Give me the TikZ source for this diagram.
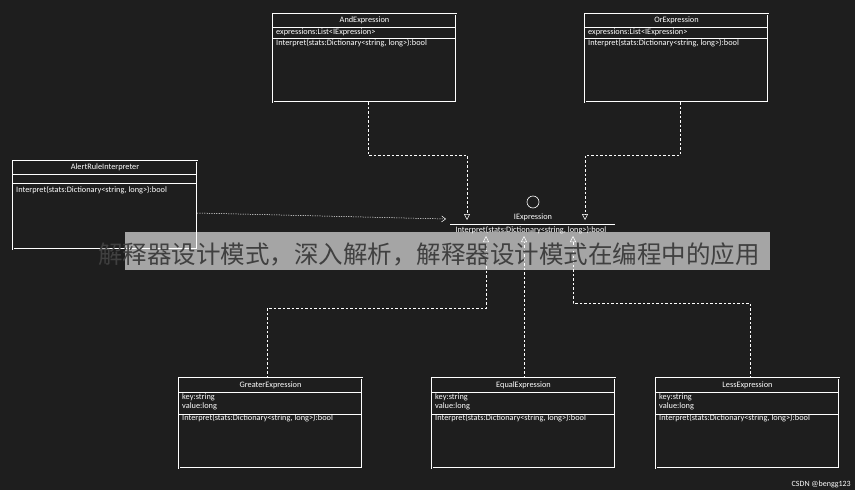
\documentclass[tikz,border=0pt]{standalone}
\usepackage{fontspec}
\setmainfont{Carlito}
\newfontfamily\cjk{Noto Sans CJK SC}
\usetikzlibrary{arrows.meta}
\definecolor{bg}{HTML}{1E1E1E}
\begin{document}
\begin{tikzpicture}[x=1pt,y=-1pt,
  cls/.style={draw=white,line width=0.7pt,double=bg,double distance=0.8pt,inner sep=0pt},
  sep/.style={draw=white,line width=0.6pt},
  ttl/.style={text=white,font=\fontsize{8.3}{8.5}\selectfont,inner sep=0pt},
  txt/.style={text=white,font=\fontsize{8.3}{9}\selectfont,inner sep=0pt,anchor=north west,align=left},
  conn/.style={draw=white!85,line width=0.5pt,dash pattern=on 2.5pt off 2pt},
  real/.style={conn,-{Triangle[open,length=6pt,width=6pt]}},
  dep/.style={draw=white!85,line width=0.5pt,dash pattern=on 1.2pt off 1.2pt,-{Straight Barb[length=4pt,width=6pt]}}]
\fill[bg] (0,0) rectangle (855,490);
\useasboundingbox (0,0) rectangle (855,490);
\newcommand{\umlclass}[7]{%
  \draw[cls] (#2,#3) rectangle (#4,#5);
  \draw[sep] (#2,#6) -- (#4,#6);
  \draw[sep] (#2,#7) -- (#4,#7);
}
\umlclass{and}{273}{14}{456}{102}{27}{38}
\node[ttl] (and) at (364.5,20.5) {AndExpression};
\node[txt] (anda) at (276,28.5) {expressions:List<IExpression>};
\node[txt] (andm) at (276,39.5) {Interpret(stats:Dictionary<string, long>):bool};
\umlclass{or}{585}{14}{768}{102}{27}{38}
\node[ttl] (or) at (676.5,20.5) {OrExpression};
\node[txt] (ora) at (588,28.5) {expressions:List<IExpression>};
\node[txt] (orm) at (588,39.5) {Interpret(stats:Dictionary<string, long>):bool};
\umlclass{al}{13}{161}{197}{249}{174}{183}
\node[ttl] (al) at (105,167.5) {AlertRuleInterpreter};
\node[txt] (alm) at (16,186) {Interpret(stats:Dictionary<string, long>):bool};
\umlclass{gr}{179}{378}{362}{468}{392}{414}
\node[ttl] (gr) at (270.5,385) {GreaterExpression};
\node[txt] (gra) at (182,393.5) {key:string\\value:long};
\node[txt] (grm) at (182,414.5) {Interpret(stats:Dictionary<string, long>):bool};
\umlclass{eq}{432}{378}{615}{468}{392}{414}
\node[ttl] (eq) at (523.5,385) {EqualExpression};
\node[txt] (eqa) at (435,393.5) {key:string\\value:long};
\node[txt] (eqm) at (435,414.5) {Interpret(stats:Dictionary<string, long>):bool};
\umlclass{le}{656}{378}{839}{468}{392}{414}
\node[ttl] (le) at (747.5,385) {LessExpression};
\node[txt] (lea) at (659,393.5) {key:string\\value:long};
\node[txt] (lem) at (659,414.5) {Interpret(stats:Dictionary<string, long>):bool};
\node[draw=white,line width=0.6pt,circle,minimum size=12pt,inner sep=0pt] (lol) at (533,202) {};
\node[ttl] (ie) at (533,217.5) {IExpression};
\draw[sep] (450,224) -- (615,224);
\node[ttl] (iem) at (531,230) {Interpret(stats:Dictionary<string, long>):bool};
\coordinate (t1) at (467,220); \coordinate (t2) at (585,220);
\coordinate (b1) at (486,236); \coordinate (b2) at (524,236); \coordinate (b3) at (573,236);
\coordinate (ae) at (446,219);
\draw[real] (368,102) |- (467,155) -- (t1);
\draw[real] (680,102) |- (585,155) -- (t2);
\draw[dep] (197,213) -- (ae);
\draw[real] (267,378) |- (486,308) -- (b1);
\draw[real] (524,378) -- (b2);
\draw[real] (750,378) |- (573,303) -- (b3);
\fill[white,opacity=0.6] (125,232) rectangle (770,270);
\node[inner sep=0pt,text=black!75,font=\cjk\fontsize{24.5}{25}\selectfont] (wm) at (429,254) {解释器设计模式，深入解析，解释器设计模式在编程中的应用};
\node[inner sep=0pt,text=white!80,font=\fontsize{8}{8.5}\selectfont,anchor=east] (cs) at (851,484) {CSDN @bengg123};
\end{tikzpicture}
\end{document}
